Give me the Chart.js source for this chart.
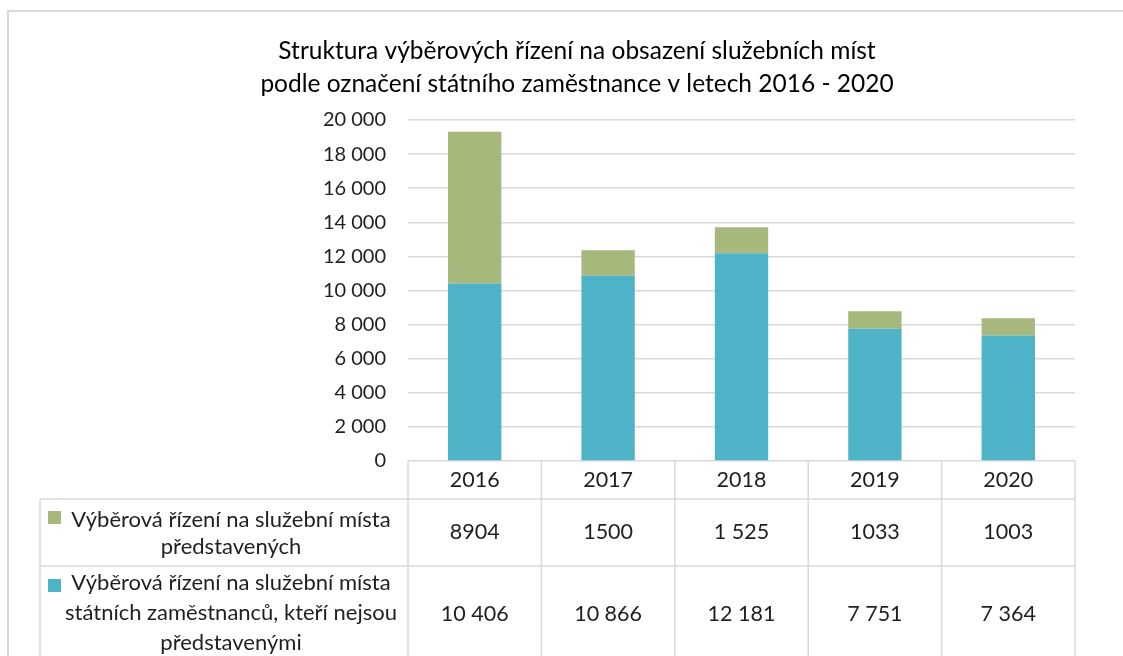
<!DOCTYPE html>
<html>
<head>
<meta charset="utf-8">
<script src="https://cdn.jsdelivr.net/npm/chart.js@4/dist/chart.umd.min.js"></script>
<style>
  html, body { margin: 0; padding: 0; background: #fff; }
  #wrap { width: 1123px; height: 656px; }
</style>
</head>
<body>
<div id="wrap"><canvas id="displayWindow" width="1123" height="656"></canvas></div>
<script>
const ctx = document.getElementById('displayWindow').getContext('2d');

const years = ["2016", "2017", "2018", "2019", "2020"];
const managerPositions = [8904, 1500, 1525, 1033, 1003];
const otherPositions = [10406, 10866, 12181, 7751, 7364];
// text as written in the table under the chart
const managerText = ["8904", "1500", "1 525", "1033", "1003"];
const otherText = ["10 406", "10 866", "12 181", "7 751", "7 364"];

const titleLines = [
  "Struktura výběrových řízení na obsazení služebních míst",
  "podle označení státního zaměstnance v letech 2016 - 2020"
];
const managerLabel = ["Výběrová řízení na služební místa", "představených"];
const otherLabel = ["Výběrová řízení na služební místa", "státních zaměstnanců, kteří nejsou", "představenými"];

const greenColor = "#A7B87D";
const blueColor = "#4FB3C8";
const lineColor = "#D9D9D9";
const textColor = "#1F1F1F";
const fontFamily = "Lato, 'Open Sans', sans-serif";

function spaced(n) {
  return String(n).replace(/\B(?=(\d{3})+(?!\d))/g, " ");
}

const dataTable = {
  id: 'dataTable',
  beforeDraw(chart) {
    const c = chart.ctx;
    c.save();
    c.strokeStyle = lineColor;
    c.lineWidth = 2;
    c.beginPath();
    c.moveTo(8, 656);
    c.lineTo(8, 11);
    c.lineTo(1123, 11);
    c.stroke();

    // title, centred like the original (not over the plot area)
    c.fillStyle = "#000";
    c.font = "24.5px " + fontFamily;
    c.textAlign = "center";
    c.textBaseline = "alphabetic";
    titleLines.forEach((line, i) => c.fillText(line, 577, 59 + i * 33));
    c.restore();
  },
  afterDraw(chart) {
    const c = chart.ctx;
    const area = chart.chartArea;
    const xScale = chart.scales.x;
    const half = (area.right - area.left) / years.length / 2;
    const bottom = chart.height;
    const tableLeft = 40;
    const rowA = 499;
    const rowB = 566;

    c.save();
    c.strokeStyle = lineColor;
    c.lineWidth = 1.5;
    c.beginPath();
    c.moveTo(tableLeft, bottom);
    c.lineTo(tableLeft, rowA);
    [rowA, rowB].forEach(y => {
      c.moveTo(tableLeft, y);
      c.lineTo(area.right, y);
    });
    years.forEach((year, i) => {
      const x = xScale.getPixelForValue(i) - half;
      c.moveTo(x, area.bottom);
      c.lineTo(x, bottom);
    });
    c.moveTo(area.right, area.bottom);
    c.lineTo(area.right, bottom);
    c.stroke();

    c.fillStyle = textColor;
    c.font = "21.5px " + fontFamily;
    c.textAlign = "center";
    c.textBaseline = "middle";
    years.forEach((year, i) => {
      const x = xScale.getPixelForValue(i);
      c.fillText(year, x, 480);
      c.fillText(managerText[i], x, 532);
      c.fillText(otherText[i], x, 614);
    });

    c.font = "22px " + fontFamily;
    const labelCenter = 231;
    managerLabel.forEach((line, i) => c.fillText(line, labelCenter, 520 + i * 27));
    otherLabel.forEach((line, i) => c.fillText(line, labelCenter, 583 + i * 30));

    c.fillStyle = greenColor;
    c.fillRect(48, 511, 13, 13);
    c.fillStyle = blueColor;
    c.fillRect(48, 579, 13, 13);
    c.restore();
  }
};

const structureChart = new Chart(ctx, {
  type: 'bar',
  data: {
    labels: years,
    datasets: [
      {
        label: otherLabel.join(" "),
        data: otherPositions,
        backgroundColor: blueColor,
        borderWidth: 0,
        barPercentage: 0.4,
        categoryPercentage: 1
      },
      {
        label: managerLabel.join(" "),
        data: managerPositions,
        backgroundColor: greenColor,
        borderWidth: 0,
        barPercentage: 0.4,
        categoryPercentage: 1
      }
    ]
  },
  options: {
    responsive: false,
    animation: false,
    layout: {
      padding: { left: 0, right: 48, top: 120, bottom: 195 }
    },
    scales: {
      x: {
        stacked: true,
        display: false
      },
      y: {
        stacked: true,
        min: 0,
        max: 20000,
        afterFit(scale) {
          scale.width = 408;
        },
        border: { display: false },
        grid: {
          color: lineColor,
          lineWidth: 1.5,
          drawTicks: false
        },
        ticks: {
          stepSize: 2000,
          padding: 22,
          color: textColor,
          font: { family: fontFamily, size: 20 },
          callback: value => spaced(value)
        }
      }
    },
    plugins: {
      legend: { display: false },
      tooltip: { enabled: false },
      title: { display: false }
    }
  },
  plugins: [dataTable]
});
</script>
</body>
</html>
